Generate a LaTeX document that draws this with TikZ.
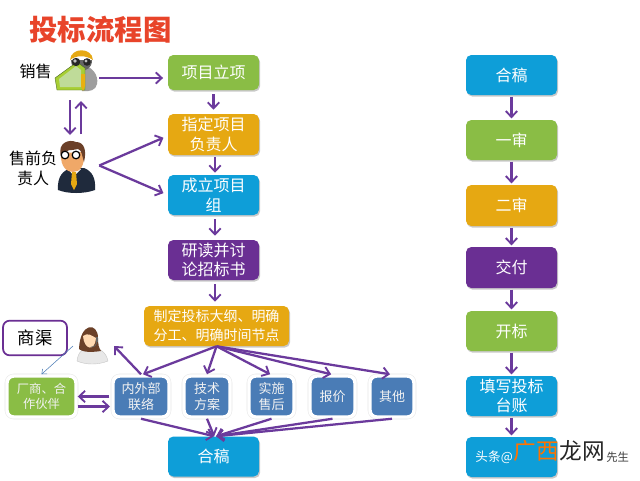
\documentclass[tikz,border=0pt]{standalone}
\usepackage{fontspec}
\setmainfont{Noto Sans CJK SC}
\usetikzlibrary{arrows.meta,shadows,calc}
\definecolor{cgreen}{HTML}{8ABD45}
\definecolor{corange}{HTML}{E6A812}
\definecolor{cblue}{HTML}{0E9ED8}
\definecolor{cpurple}{HTML}{6A2F93}
\definecolor{csteel}{HTML}{4A7CB6}
\definecolor{carrow}{HTML}{6B3A9C}
\definecolor{ctitle}{HTML}{E8442A}
\definecolor{cskin}{HTML}{F0A868}
\definecolor{cnavy}{HTML}{1F2A3C}
\definecolor{chair}{HTML}{6B4028}
\tikzset{
  flowbox/.style={rounded corners=4pt,inner sep=0pt,align=center,text=white,font=\fontsize{12}{14.8}\selectfont,
    minimum width=68.25pt,drop shadow={shadow xshift=0.8pt,shadow yshift=-1.2pt,opacity=.35,fill=black!60}},
  subbox/.style={rounded corners=5pt,inner sep=0pt,align=center,text=white!95!black,font=\fontsize{9.75}{11.4}\selectfont,
    minimum height=30.75pt,fill=csteel,draw=white,line width=2.6pt,
    preaction={draw=black!9,line width=3.4pt}},
  flow/.style={draw=carrow,line width=1.7pt,-{Straight Barb[length=4.5pt,width=8.5pt,line width=1.4pt]}},
  gap/.style={shorten <=#1,shorten >=#1},
  label/.style={inner sep=0pt,align=center,text=black,font=\fontsize{12}{15}\selectfont},
  icon/.style={inner sep=0pt,minimum width=3pt,minimum height=3pt},
}
\begin{document}
\begin{tikzpicture}[x=0.75pt,y=-0.75pt]
\useasboundingbox (0,0) rectangle (640,480);
\fill[white] (0,0) rectangle (640,480);
% title
\node[inner sep=0pt,text=ctitle,font=\fontsize{21.3}{24}\selectfont\bfseries] (title) at (100.5,30) {投标流程图};
% left column
\node[flowbox,fill=cgreen,minimum height=26.25pt] (a1) at (213.5,72.5) {项目立项};
\node[flowbox,fill=corange,minimum height=30.75pt] (a2) at (213.5,134.5) {指定项目\\负责人};
\node[flowbox,fill=cblue,minimum height=30pt] (a3) at (213.5,195) {成立项目\\组};
\node[flowbox,fill=cpurple,minimum height=30pt] (a4) at (213.5,260) {研读并讨\\论招标书};
\node[flowbox,fill=corange,minimum width=108.75pt,minimum height=30pt,font=\fontsize{10.5}{14}\selectfont] (a5) at (216.5,326) {制定投标大纲、明确\\分工、明确时间节点};
\node[flowbox,fill=cblue,minimum height=30pt] (a6) at (213.5,456.5) {合稿};
% sub row
\node[subbox,fill=cgreen,minimum width=51.75pt,font=\fontsize{9.2}{11.4}\selectfont] (s0) at (41.5,396.5) {厂商、合\\作伙伴};
\node[subbox,minimum width=42pt] (s1) at (141,396.5) {内外部\\联络};
\node[subbox,minimum width=34.5pt] (s2) at (207,396.5) {技术\\方案};
\node[subbox,minimum width=33.75pt] (s3) at (271.5,396.5) {实施\\售后};
\node[subbox,minimum width=33.75pt] (s4) at (332.5,396.5) {报价};
\node[subbox,minimum width=33pt] (s5) at (392,396.5) {其他};
% channel
\node[rounded corners=5pt,draw=cpurple,line width=1.3pt,fill=white,minimum width=48pt,minimum height=26pt,inner sep=0pt,font=\fontsize{13}{16}\selectfont] (qd) at (35,338) {商渠};
% right column
\node[flowbox,fill=cblue,minimum height=30pt] (b1) at (511.5,75) {合稿};
\node[flowbox,fill=cgreen,minimum height=30pt] (b2) at (511.5,140) {一审};
\node[flowbox,fill=corange,minimum height=30.75pt] (b3) at (511.5,205.5) {二审};
\node[flowbox,fill=cpurple,minimum height=30.75pt] (b4) at (511.5,267.5) {交付};
\node[flowbox,fill=cgreen,minimum height=30pt] (b5) at (511.5,331) {开标};
\node[flowbox,fill=cblue,minimum height=30pt] (b6) at (511.5,396) {填写投标\\台账};
\node[flowbox,fill=cblue,minimum height=30pt] (b7) at (511.5,457) {};
% labels
\node[label] (l1) at (35.5,71) {销售};
\node[label] (l2) at (33,168) {售前负\\责人};
% sales icon
\fill[black!38] (80,66) .. controls (92,64) and (99,76) .. (97,84) .. controls (96,90) and (90,92) .. (82,91) -- cycle;
\fill[black!60] (71,60) .. controls (70,72) and (92,76) .. (92,60) -- cycle;
\fill[corange] (70,60) .. controls (71,47) and (92,47) .. (93,60) .. controls (86,55) and (76,55) .. (70,60) -- cycle;
\fill[cgreen!75!yellow,draw=cgreen!55!black,line width=.3pt] (55,78) -- (77,62) -- (85,68) -- (85,90) -- (57,90) -- cycle;
\fill[cgreen!55!white] (59,79) -- (76,66) -- (81,70) -- (81,87) -- (60,87) -- cycle;
\fill[black!85] (76,62) circle (4.2) (87,62) circle (3.8);
\fill[black!25] (75,61) circle (1.8) (86,61) circle (1.6);
\fill[corange!90!yellow] (81,74) -- (85,74) -- (85,86) -- (83,91) -- (81,86) -- cycle;
% presales icon
\fill[cnavy] (58,190) .. controls (57,175) and (64,171) .. (70,168) -- (84,168) .. controls (92,171) and (96,178) .. (95,190) .. controls (84,194) and (68,194) .. (58,190) -- cycle;
\fill[white] (68,169) -- (74,176) -- (81,169) -- cycle;
\fill[corange] (72,172) -- (76,172) -- (77,184) -- (74,190) -- (71,184) -- cycle;
\fill[cskin] (61,153) .. controls (60,168) and (68,172) .. (73,172) .. controls (80,172) and (85,166) .. (84,152) -- cycle;
\fill[chair] (61,156) .. controls (57,142) and (70,139) .. (76,142) .. controls (84,142) and (87,150) .. (84,162) .. controls (82,156) and (82,150) .. (78,149) .. controls (72,151) and (66,148) .. (61,156) -- cycle;
\draw[black,line width=.9pt,fill=white] (65,155) circle (3.8) (76,155) circle (3.8);
% agent icon
\fill[black!9,draw=black!22,line width=.3pt] (77,361) .. controls (78,351) and (84,348) .. (90,347) .. controls (100,348) and (106,352) .. (108,361) .. controls (98,365) and (86,365) .. (77,361) -- cycle;
\fill[chair] (79,349) .. controls (80,322) and (98,322) .. (98,338) .. controls (98,345) and (99,348) .. (101,351) .. controls (94,352) and (84,353) .. (79,349) -- cycle;
\fill[orange!30!white] (83,336) .. controls (84,350) and (95,352) .. (96,338) .. controls (92,336) and (88,332) .. (83,336) -- cycle;
\draw[black!60,line width=.5pt] (97,339) .. controls (97,346) and (94,347) .. (91,347);
\fill[black!60] (95.5,337) rectangle (98,342);
% watermark
\node[inner sep=0pt,anchor=east,text=white,font=\fontsize{9.5}{12}\selectfont] (w1) at (513,457) {头条@};
\node[inner sep=0pt,anchor=west,text=black!75,font=\fontsize{8.5}{11}\selectfont] (w3) at (606,457) {先生};
\node[inner sep=0pt,text=orange!90!red,font=\fontsize{17}{20}\selectfont] (w4) at (536,451) {广西};
\node[inner sep=0pt,text=black!85,font=\fontsize{17}{20}\selectfont] (w5) at (582,451) {龙网};
% named ends
\node[icon] (sales) at (97,78) {};
\node[icon] (pre) at (97,165.5) {};
\coordinate (d1) at (70,100);
\coordinate (d2) at (70,135);
\coordinate (u1) at (81,134);
\coordinate (u2) at (81,101);
\coordinate (colx) at (215,0);
\coordinate (agentpt) at (114,346);
\coordinate (thin) at (73,346);
% arrows
\draw[flow,shorten >=3.5pt] (sales.east) -- (sales.east -| a1.west);
\draw[flow,gap=3pt] (a1.south) -- (a2.north);
\draw[flow,gap=1.5pt] (a2.south -| colx) -- (a3.north -| colx);
\draw[flow,gap=3pt] (a3.south -| colx) -- (a4.north -| colx);
\draw[flow,gap=3pt] (a4.south -| colx) -- (a5.north -| colx);
\draw[flow] (d1) -- (d2);
\draw[flow] (u1) -- (u2);
\draw[flow,shorten >=3.5pt] (pre.east) -- ([yshift=-1pt]a2.west);
\draw[flow,shorten >=3.5pt] (pre.east) -- ([yshift=0pt]a3.west);
\draw[flow] (a5.south) -- ([xshift=1.5pt]s1.north);
\draw[flow] (a5.south) -- (s2.north);
\draw[flow] (a5.south) -- ([xshift=-1pt]s3.north);
\draw[flow] (a5.south) -- ([xshift=-1pt]s4.north);
\draw[flow] (a5.south) -- ([xshift=-1.5pt]s5.north);
\draw[flow] (s1.north) -- (agentpt);
\draw[flow,shorten <=1.5pt] (s1.west) -- (s0.east);
\draw[flow,shorten >=1pt] ([yshift=-7.5pt]s0.east) -- ([yshift=-7.5pt]s1.west);
\draw[flow] (s1.south) -- ([xshift=0.5pt]a6.north);
\draw[flow] (s2.south) -- ([xshift=0.5pt]a6.north);
\draw[flow] (s3.south) -- ([xshift=2pt]a6.north);
\draw[flow] (s4.south) -- ([xshift=2pt]a6.north);
\draw[flow] (s5.south) -- ([xshift=2pt]a6.north);
\draw[draw=csteel,line width=.4pt,-{Straight Barb[length=3pt,width=5pt,line width=.4pt]}] (thin) -- (s0.north);
\draw[flow,gap=1pt] (b1.south) -- (b2.north);
\draw[flow,gap=1pt] (b2.south) -- (b3.north);
\draw[flow,gap=1pt] (b3.south) -- (b4.north);
\draw[flow,gap=1pt] (b4.south) -- (b5.north);
\draw[flow,gap=1pt] (b5.south) -- (b6.north);
\draw[flow,gap=1pt] (b6.south) -- (b7.north);
\end{tikzpicture}
\end{document}
